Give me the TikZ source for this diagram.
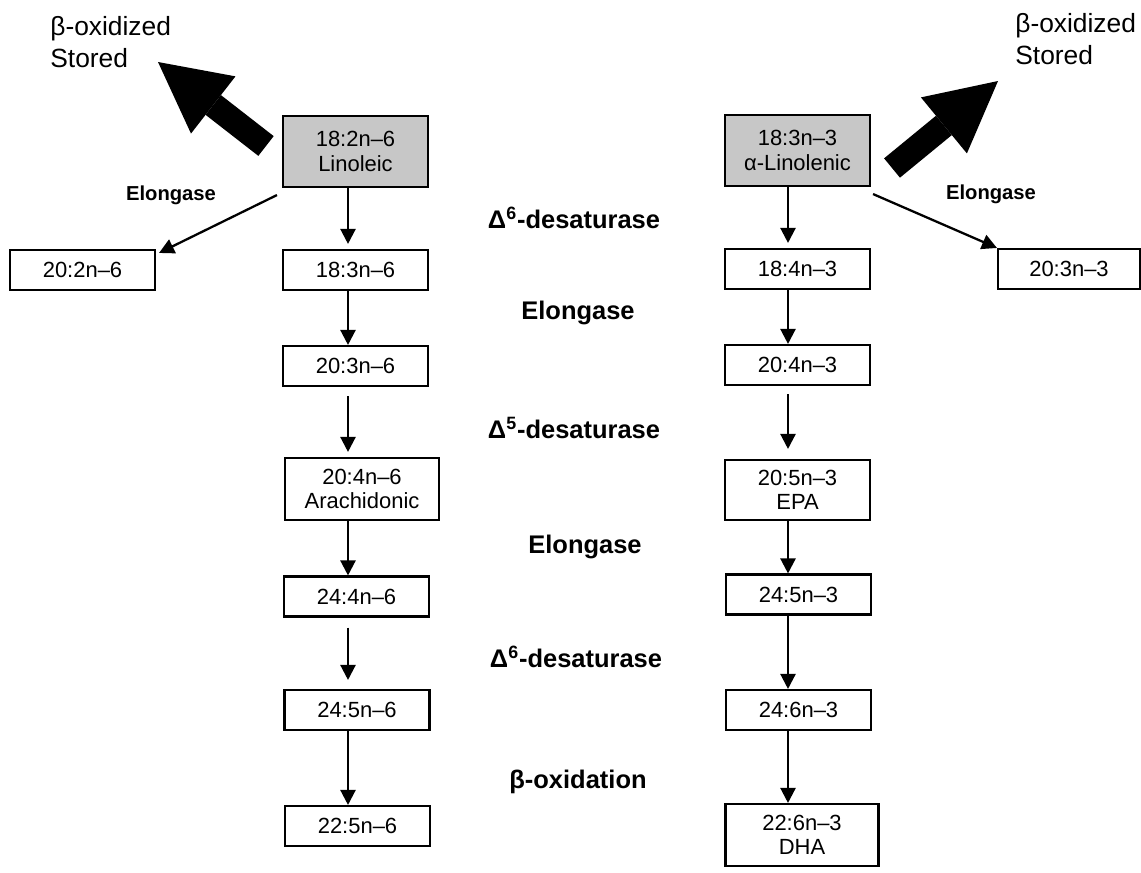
\documentclass[tikz,border=0pt]{standalone}
\usepackage{fontspec}
\setmainfont{Liberation Sans}
\usepackage{tikz}
\usetikzlibrary{arrows.meta}
\usepackage{xcolor}

\tikzset{
  acid/.style={rectangle, draw, line width=1.2pt, minimum width=2.9cm, minimum height=0.8cm, inner sep=1pt, align=center, font=\fontsize{12.5}{14}\selectfont},
  parent/.style={acid, fill=black!22, minimum height=1.42cm},
  enzyme/.style={font=\fontsize{14.5}{17}\selectfont\bfseries},
  sidelabel/.style={font=\fontsize{11.5}{14}\selectfont\bfseries},
  fate/.style={anchor=north west, inner sep=0pt, align=left, font=\fontsize{15}{18}\selectfont},
  flow/.style={line width=1.3pt, -{Triangle[length=0.3cm, width=0.3cm]}},
  fat/.style={line width=0.5cm, -{Triangle[length=1.4cm, width=1.45cm, line width=0pt]}}
}

\begin{document}
\begin{tikzpicture}[x=0.02cm, y=-0.02cm]
          % Variables
          \coordinate (cl) at (348,0);
          \coordinate (cr) at (788,0);

          \useasboundingbox (0,0) rectangle (1141,872);

          % Omega-6 column
          \node[parent] (lin) at (355.5,151.5) {18:2n--6\\Linoleic};
          \node[acid] (l183) at (355.5,270) {18:3n--6};
          \node[acid] (l202) at (82.5,270) {20:2n--6};
          \node[acid] (l203) at (355.5,366) {20:3n--6};
          \node[acid, minimum width=3.08cm, minimum height=1.24cm] (l204) at (362,489) {20:4n--6\\Arachidonic};
          \node[acid] (l244) at (356.5,596.5) {24:4n--6};
          \node[acid] (l245) at (357,710) {24:5n--6};
          \node[acid] (l225) at (357.5,826) {22:5n--6};

          % Omega-3 column
          \node[parent] (ala) at (797.5,150.5) {18:3n--3\\α-Linolenic};
          \node[acid] (r184) at (797.5,269) {18:4n--3};
          \node[acid, minimum width=2.84cm] (r203) at (1069,269) {20:3n--3};
          \node[acid] (r204) at (797.5,365) {20:4n--3};
          \node[acid, minimum height=1.2cm] (r205) at (797.5,490) {20:5n--3\\EPA};
          \node[acid] (r245) at (798.5,594.5) {24:5n--3};
          \node[acid] (r246) at (798.5,710) {24:6n--3};
          \node[acid, minimum width=3.06cm, minimum height=1.24cm] (r226) at (802,835) {22:6n--3\\DHA};

          % Enzyme labels
          \node[enzyme] (d6a) at (574,218) {Δ\textsuperscript{6}-desaturase};
          \node[enzyme] (el1) at (578,313) {Elongase};
          \node[enzyme] (d5) at (574,428) {Δ\textsuperscript{5}-desaturase};
          \node[enzyme] (el2) at (585,547) {Elongase};
          \node[enzyme] (d6b) at (576,657) {Δ\textsuperscript{6}-desaturase};
          \node[enzyme] (box) at (578,782) {β-oxidation};
          \node[sidelabel] (elL) at (171,195) {Elongase};
          \node[sidelabel] (elR) at (991,194) {Elongase};

          % Fates
          \node[fate] (fateL) at (50,16) {β-oxidized\\Stored};
          \node[fate] (fateR) at (1015,13) {β-oxidized\\Stored};
          \coordinate (tailL) at (266,146);
          \coordinate (tipL) at (158,62);
          \coordinate (tailR) at (892,168);
          \coordinate (tipR) at (998,81);
          \draw[fat] (tailL) -- (tipL);
          \draw[fat] (tailR) -- (tipR);

          % Arrows, left
          \draw[flow, shorten >=0.1cm] (lin.south -| cl) -- (l183.north -| cl);
          \draw[flow] (l183.south -| cl) -- (l203.north -| cl);
          \draw[flow, shorten <=0.18cm, shorten >=0.1cm] (l203.south -| cl) -- (l204.north -| cl);
          \draw[flow] (l204.south -| cl) -- (l244.north -| cl);
          \draw[flow, shorten <=0.2cm, shorten >=0.18cm] (l244.south -| cl) -- (l245.north -| cl);
          \draw[flow] (l245.south -| cl) -- (l225.north -| cl);
          \draw[flow] ([shift={(-5,7)}]lin.south west) -- ([shift={(3,4)}]l202.north east);

          % Arrows, right
          \draw[flow, shorten >=0.1cm] (ala.south -| cr) -- (r184.north -| cr);
          \draw[flow] (r184.south -| cr) -- (r204.north -| cr);
          \draw[flow, shorten <=0.16cm, shorten >=0.2cm] (r204.south -| cr) -- (r205.north -| cr);
          \draw[flow] (r205.south -| cr) -- (r245.north -| cr);
          \draw[flow] (r245.south -| cr) -- (r246.north -| cr);
          \draw[flow] (r246.south -| cr) -- (r226.north -| cr);
          \draw[flow] ([shift={(2,7)}]ala.south east) -- (r203.north west);

        \end{tikzpicture}
\end{document}
